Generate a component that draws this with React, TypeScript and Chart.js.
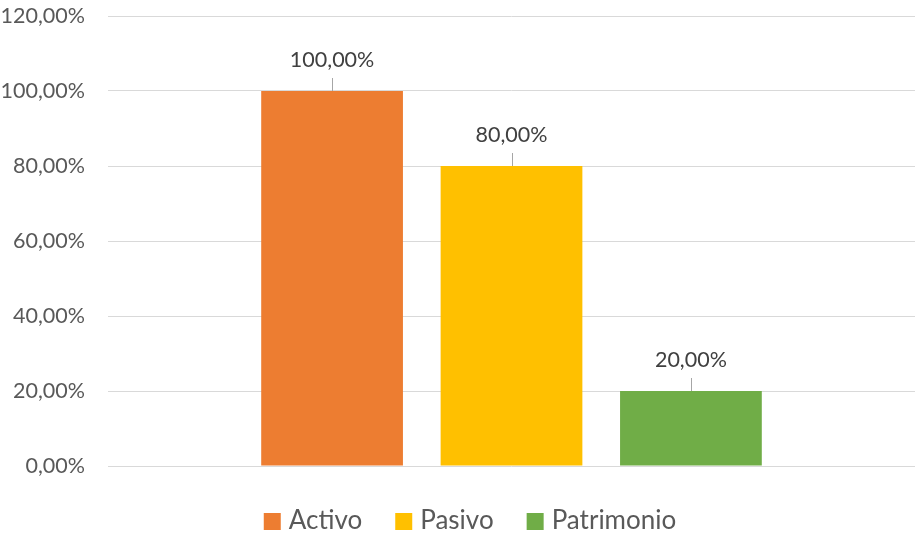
import React, { useEffect, useRef } from "react";
import { Chart, registerables } from "chart.js";

Chart.register(...registerables);

const categories = [""];
const seriesNames = ["Activo", "Pasivo", "Patrimonio"];
const seriesValues = [[100], [80], [20]];
const seriesColors = ["#ED7D31", "#FFC000", "#70AD47"];
const yTicks = [0, 20, 40, 60, 80, 100, 120];

const fmt = (v: number) => v.toFixed(2).replace(".", ",") + "%";
const FONT = "Lato, 'Open Sans', sans-serif";

const labelPlugin = {
  id: "leaderLabels",
  afterDatasetsDraw(chart: any) {
    const ctx = chart.ctx;
    ctx.save();
    chart.data.datasets.forEach((ds: any, i: number) => {
      const meta = chart.getDatasetMeta(i);
      meta.data.forEach((bar: any, j: number) => {
        const v = ds.data[j];
        const x = bar.x;
        const y = bar.y;
        ctx.strokeStyle = "#A6A6A6";
        ctx.lineWidth = 1;
        ctx.beginPath();
        ctx.moveTo(Math.round(x) + 0.5, y);
        ctx.lineTo(Math.round(x) + 0.5, y - 13);
        ctx.stroke();
        ctx.fillStyle = "#404040";
        ctx.font = `21.5px ${FONT}`;
        ctx.textAlign = "center";
        ctx.textBaseline = "middle";
        ctx.fillText(fmt(v), x, y - 31);
      });
    });
    ctx.restore();
  },
};

const legendPlugin = {
  id: "customLegend",
  afterDraw(chart: any) {
    const ctx = chart.ctx;
    ctx.save();
    ctx.font = `26px ${FONT}`;
    ctx.textBaseline = "alphabetic";
    ctx.textAlign = "left";
    const box = 17;
    const gapText = 8;
    const gapItem = 33;
    const widths = seriesNames.map((n) => ctx.measureText(n).width);
    const total =
      widths.reduce((a, w) => a + box + gapText + w, 0) + gapItem * (seriesNames.length - 1);
    let x = 470 - total / 2;
    const baseline = 529;
    seriesNames.forEach((n, i) => {
      ctx.fillStyle = seriesColors[i];
      ctx.fillRect(x, 513, box, box);
      x += box + gapText;
      ctx.fillStyle = "#595959";
      ctx.fillText(n, x, baseline);
      x += widths[i] + gapItem;
    });
    ctx.restore();
  },
};

export default function App() {
  const ref = useRef<HTMLCanvasElement>(null);
  useEffect(() => {
    document.body.style.margin = "0";
    const chart = new Chart(ref.current!, {
      type: "bar",
      data: {
        labels: categories,
        datasets: seriesNames.map((n, i) => ({
          label: n,
          data: seriesValues[i],
          backgroundColor: seriesColors[i],
          borderWidth: 0,
          categoryPercentage: 0.667,
          barPercentage: 0.79,
        })),
      },
      options: {
        animation: false,
        responsive: false,
        layout: { padding: { top: 16, right: 1, bottom: 70, left: 0 } },
        plugins: {
          tooltip: { enabled: false },
          legend: { display: false },
        },
        scales: {
          x: {
            display: false,
          },
          y: {
            min: 0,
            max: 120,
            afterBuildTicks: (s: any) => {
              s.ticks = yTicks.map((v) => ({ value: v }));
            },
            afterFit: (s: any) => {
              s.width = 108;
              s.paddingTop = 0;
              s.paddingBottom = 0;
            },
            ticks: {
              padding: 23,
              color: "#595959",
              font: { family: FONT, size: 21.5 },
              callback: (v: any) => fmt(Number(v)),
            },
            grid: { color: "#D9D9D9", drawTicks: false, lineWidth: 1 },
            border: { display: false },
          },
        },
      },
      plugins: [labelPlugin, legendPlugin],
    });
    return () => chart.destroy();
  }, []);
  return (
    <div style={{ position: "absolute", left: 0, top: 0, width: 916, height: 536 }}>
      <canvas ref={ref} width={916} height={536} />
    </div>
  );
}
